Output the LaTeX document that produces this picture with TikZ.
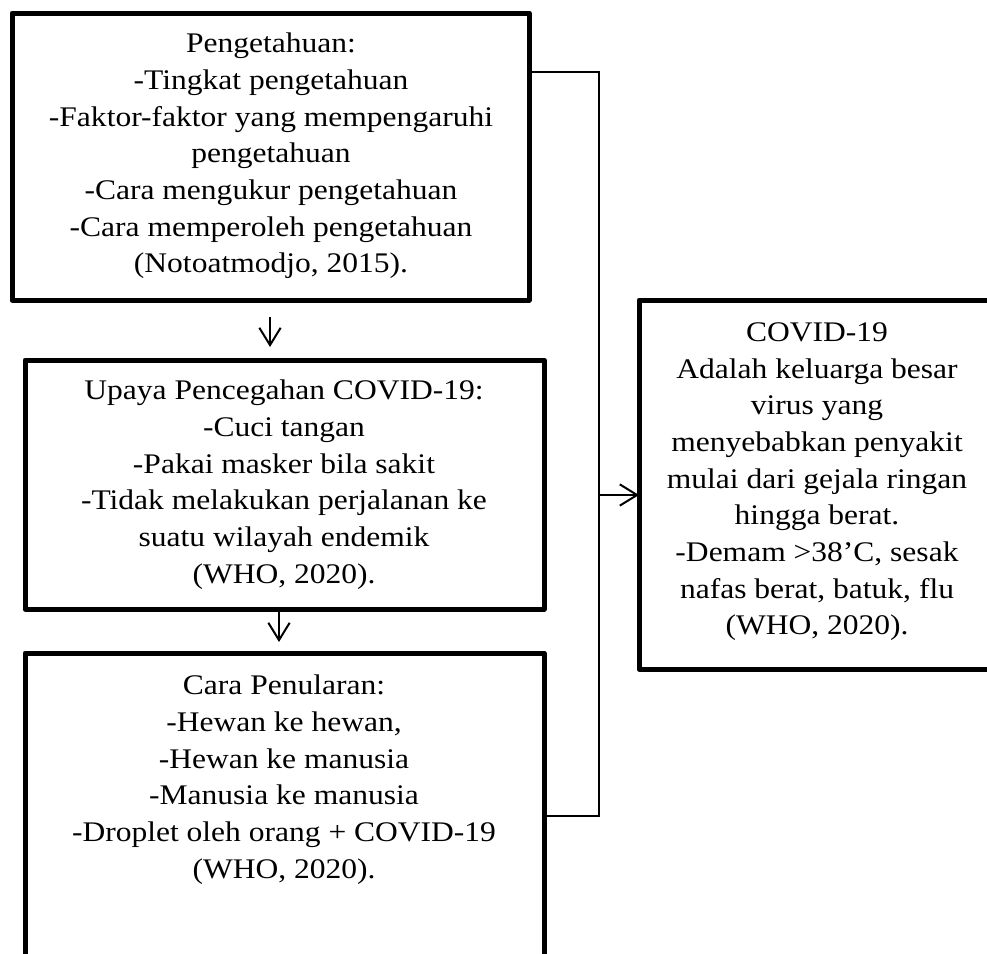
\documentclass[tikz,border=0pt]{standalone}
\usepackage{fontspec}
\setmainfont{Liberation Serif}[FakeStretch=1.11]
\usetikzlibrary{arrows.meta}
\begin{document}
\begin{tikzpicture}[x=0.75pt,y=-0.75pt,
  box/.style={draw, line width=3.75pt, rectangle, inner sep=0pt, outer sep=0pt, line join=round},
  txt/.style={align=center, inner sep=0pt, anchor=north, font=\fontsize{21.3}{27.5}\selectfont},
  conn/.style={line width=1.3pt},
  arr/.style={line width=1.5pt, -{Straight Barb[length=13pt,width=16pt]}}]
\clip (0,0) rectangle (987,953);
% boxes
\node[box, minimum width=517*0.75pt, minimum height=287*0.75pt] (b1) at (270.5,156.5) {};
\node[box, minimum width=519*0.75pt, minimum height=249*0.75pt] (b2) at (284.5,484.5) {};
\node[box, minimum width=519*0.75pt, minimum height=350*0.75pt] (b3) at (284.5,828) {};
\node[box, minimum width=356*0.75pt, minimum height=369*0.75pt] (b4) at (817,484.5) {};
% texts
\node[txt] (t1) at (271,33) {Pengetahuan:\\-Tingkat pengetahuan\\-Faktor-faktor yang mempengaruhi\\pengetahuan\\-Cara mengukur pengetahuan\\-Cara memperoleh pengetahuan\\(Notoatmodjo, 2015).};
\node[txt] (t2) at (284,380) {Upaya Pencegahan COVID-19:\\-Cuci tangan\\-Pakai masker bila sakit\\-Tidak melakukan perjalanan ke\\suatu wilayah endemik\\(WHO, 2020).};
\node[txt] (t3) at (284,675) {Cara Penularan:\\-Hewan ke hewan,\\-Hewan ke manusia\\-Manusia ke manusia\\-Droplet oleh orang + COVID-19\\(WHO, 2020).};
\node[txt] (t4) at (817,322.5) {COVID-19\\Adalah keluarga besar\\virus yang\\menyebabkan penyakit\\mulai dari gejala ringan\\hingga berat.\\-Demam >38’C, sesak\\nafas berat, batuk, flu\\(WHO, 2020).};
% connector coordinates
\coordinate (a1) at (270,0);
\coordinate (a2) at (279,0);
\coordinate (j1) at (599,72);
\coordinate (j2) at (599,816);
\coordinate (j3) at (599,495);
% connectors
\draw[arr, shorten <=17*0.75pt, shorten >=13*0.75pt] (b1.south -| a1) -- (b2.north -| a1);
\draw[arr, shorten <=3*0.75pt, shorten >=11*0.75pt] (b2.south -| a2) -- (b3.north -| a2);
\draw[conn] (b1.east |- j1) -- (j1) -- (j2) -- (b3.east |- j2);
\draw[arr] (j3) -- (b4.west |- j3);
\end{tikzpicture}
\end{document}
